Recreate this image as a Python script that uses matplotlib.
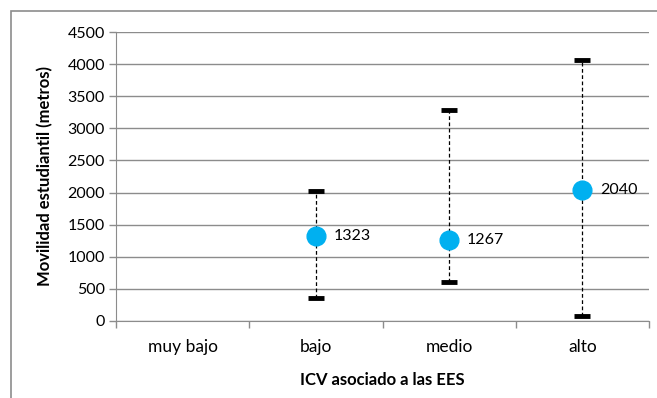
import matplotlib.pyplot as plt
from matplotlib.patches import Rectangle

plt.rcParams['font.family'] = ['Lato', 'DejaVu Sans']

categorias = ['muy bajo', 'bajo', 'medio', 'alto']
medias = [None, 1323, 1267, 2040]
maximos = [None, 2020, 3290, 4060]
minimos = [None, 355, 615, 80]

W, H = 657, 398
fig = plt.figure(figsize=(W / 100, H / 100), dpi=100)

# marco exterior del grafico
fig.patches.append(Rectangle((11 / W, -0.1), 1.2, 1 - 11 / H + 0.1,
                             transform=fig.transFigure, fill=False,
                             edgecolor='#8c8c8c', linewidth=1.2))

ax = fig.add_axes([116 / W, 1 - 321 / H, (649 - 116) / W, (321 - 32) / H])

gris = '#8c8c8c'
for i, cat in enumerate(categorias):
    if medias[i] is None:
        continue
    ax.plot([i, i], [minimos[i], maximos[i]], color='black', linestyle=(0, (3, 2)),
            linewidth=0.9, zorder=2)
    ax.plot([i, i], [minimos[i], maximos[i]], linestyle='none', marker='_',
            markersize=12, markeredgewidth=3.5, color='black', zorder=3)
    ax.plot(i, medias[i], 'o', markersize=13.5, color='#00b0f0', zorder=4)
    ax.annotate(str(medias[i]), (i, medias[i]), xytext=(13, 0),
                textcoords='offset points', va='center', ha='left', fontsize=11.5)

ax.set_xlim(-0.5, 3.5)
ax.set_ylim(0, 4500)
ax.set_yticks(range(0, 4501, 500))
ax.set_xticks(range(4))
ax.set_xticklabels(categorias)
ax.set_xticks([-0.5, 0.5, 1.5, 2.5, 3.5], minor=True)
ax.tick_params(axis='x', which='major', length=0, pad=13, labelsize=12.5)
ax.tick_params(axis='x', which='minor', length=5, color=gris, width=1)
ax.tick_params(axis='y', length=5, color=gris, width=1, labelsize=11.5, pad=3)
ax.grid(axis='y', color=gris, linewidth=1)
ax.set_axisbelow(True)
for lado in ['top', 'right']:
    ax.spines[lado].set_visible(False)
for lado in ['left', 'bottom']:
    ax.spines[lado].set_color(gris)

ax.set_xlabel('ICV asociado a las EES', fontweight='bold', fontsize=12, labelpad=12)
ax.set_ylabel('Movilidad estudiantil (metros)', fontweight='bold', fontsize=12,
              labelpad=10)

fig.savefig('out.png', dpi=100)
